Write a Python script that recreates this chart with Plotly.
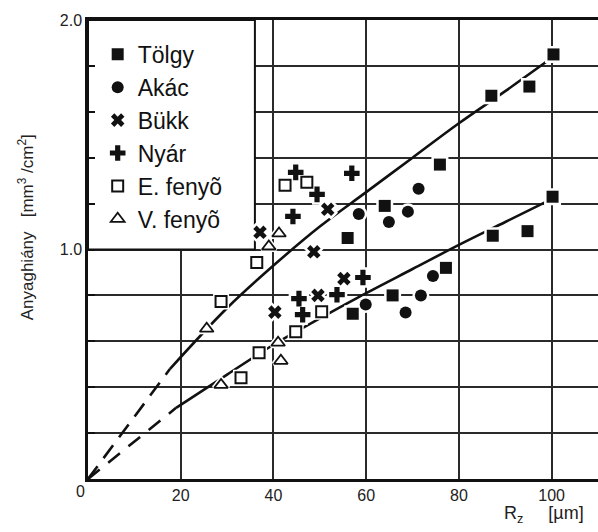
import plotly.graph_objects as go

# ---- data ----
tolgy_x = [100.4, 95.2, 87.0, 75.9, 64.0, 56.0, 100.2, 94.8, 87.3, 77.2, 65.7, 57.1]
tolgy_y = [1.85, 1.71, 1.67, 1.37, 1.19, 1.05, 1.23, 1.08, 1.06, 0.92, 0.80, 0.72]

akac_x = [58.4, 64.9, 69.0, 71.3, 59.9, 68.5, 71.8, 74.4]
akac_y = [1.155, 1.12, 1.165, 1.265, 0.76, 0.725, 0.80, 0.885]

bukk_x = [37.1, 51.7, 48.7, 55.2, 49.6, 40.3]
bukk_y = [1.075, 1.175, 0.99, 0.873, 0.80, 0.727]

nyar_x = [44.8, 56.9, 49.4, 44.2, 59.3, 53.7, 45.5, 46.3]
nyar_y = [1.336, 1.332, 1.24, 1.144, 0.878, 0.803, 0.786, 0.716]

efenyo_x = [42.5, 47.2, 36.4, 28.7, 50.4, 44.8, 36.9, 33.0]
efenyo_y = [1.28, 1.293, 0.943, 0.773, 0.729, 0.642, 0.55, 0.441]

vfenyo_x = [41.2, 39.0, 25.6, 41.6, 41.0, 28.7]
vfenyo_y = [1.07, 1.013, 0.655, 0.515, 0.594, 0.41]

# fitted curves
upper_dash_x = [0, 17.7]
upper_dash_y = [0, 0.48]
upper_x = [17.7, 30, 40, 50, 60, 70, 80, 90, 99]
upper_y = [0.48, 0.745, 0.93, 1.10, 1.25, 1.40, 1.55, 1.69, 1.82]

lower_dash_x = [0, 19]
lower_dash_y = [0, 0.31]
lower_x = [19, 30, 40, 50, 60, 70, 80, 90, 99]
lower_y = [0.31, 0.455, 0.585, 0.70, 0.81, 0.915, 1.02, 1.12, 1.21]

x_ticks = [0, 20, 40, 60, 80, 100]
x_ticktext = ["", "20", "40", "60", "80", "100"]
y_ticks = [0, 0.2, 0.4, 0.6, 0.8, 1.0, 1.2, 1.4, 1.6, 1.8, 2.0]
y_ticktext = ["", "", "", "", "", "1.0", "", "", "", "", "2.0"]

series = [
    ("Tölgy", tolgy_x, tolgy_y, "square", "square", 12, 0),
    ("Akác", akac_x, akac_y, "circle", "circle", 12, 0),
    ("Bükk", bukk_x, bukk_y, "x", "x", 12, 0),
    ("Nyár", nyar_x, nyar_y, "cross", "cross", 13, 0),
    ("E. fenyõ", efenyo_x, efenyo_y, "square-open", "square", 11, 2),
    ("V. fenyõ", vfenyo_x, vfenyo_y, "triangle-up-open", "triangle-up", 12, 1.8),
]

INK = "#111111"
FONT = "Liberation Sans, Arial, sans-serif"
SP = "\u00a0"

fig = go.Figure()

# curves
for xs, ys, dash in [(upper_dash_x, upper_dash_y, "16px,10px"),
                     (lower_dash_x, lower_dash_y, "15px,11px"),
                     (upper_x, upper_y, "solid"),
                     (lower_x, lower_y, "solid")]:
    fig.add_trace(go.Scatter(x=xs, y=ys, mode="lines", showlegend=False,
                             line=dict(color=INK, width=2.6, dash=dash, shape="spline"),
                             hoverinfo="skip"))

# white halos behind markers
for name, xs, ys, sym, halo_sym, size, lw in series:
    fig.add_trace(go.Scatter(x=xs, y=ys, mode="markers", showlegend=False,
                             marker=dict(symbol=halo_sym, size=size, color="white",
                                         line=dict(color="white", width=5)),
                             hoverinfo="skip"))

# markers
for i, (name, xs, ys, sym, halo_sym, size, lw) in enumerate(series):
    fig.add_trace(go.Scatter(x=xs, y=ys, mode="markers", name=name, legendgroup=name,
                             marker=dict(symbol=sym, size=size, color=INK,
                                         line=dict(color=INK, width=lw))))

# legend box
fig.add_shape(type="rect", xref="x", yref="y", x0=0, x1=36, y0=1.0, y1=2.0,
              fillcolor="white", line=dict(color=INK, width=2), layer="between")

fig.update_layout(
    width=598, height=532,
    margin=dict(l=88, r=0, t=20, b=53),
    paper_bgcolor="white", plot_bgcolor="white",
    font=dict(family=FONT, color="#222222", size=16),
    showlegend=True,
    legend=dict(x=0.019, y=0.972, xanchor="left", yanchor="top",
                bgcolor="rgba(0,0,0,0)", borderwidth=0,
                font=dict(size=23, color=INK, family=FONT),
                traceorder="grouped", tracegroupgap=0, itemsizing="trace"),
    xaxis=dict(range=[0, 110], tickvals=x_ticks, ticktext=x_ticktext,
               showgrid=True, gridcolor="#2a2a2a", gridwidth=1.5,
               showline=True, linecolor=INK, linewidth=2.5, mirror=True,
               ticks="", zeroline=False, tickfont=dict(size=16, color="#222222")),
    yaxis=dict(range=[0, 2.0], tickvals=y_ticks, ticktext=y_ticktext,
               showgrid=True, gridcolor="#2a2a2a", gridwidth=1.5,
               showline=True, linecolor=INK, linewidth=2.5,
               ticks="inside", ticklen=7, tickwidth=1.5, tickcolor=INK,
               zeroline=False, tickfont=dict(size=16, color="#222222")),
    annotations=[
        dict(text="0", xref="paper", yref="paper", x=-0.002, y=-0.005,
             xanchor="right", yanchor="top", showarrow=False,
             font=dict(size=16, color="#222222")),
        dict(text="Anyaghiány" + SP * 3 + "[mm<sup>3</sup>" + SP + "/cm<sup>2</sup>]",
             xref="paper", yref="paper",
             x=-0.121, y=0.549, textangle=-90, showarrow=False,
             xanchor="center", yanchor="middle",
             font=dict(size=17, color="#222222")),
        dict(text="R<sub>z</sub>" + SP * 5 + "[µm]", xref="paper", yref="paper",
             x=0.977, y=-0.077, xanchor="right", yanchor="middle", showarrow=False,
             font=dict(size=18, color="#222222")),
    ],
)

fig.write_html("out.html")
